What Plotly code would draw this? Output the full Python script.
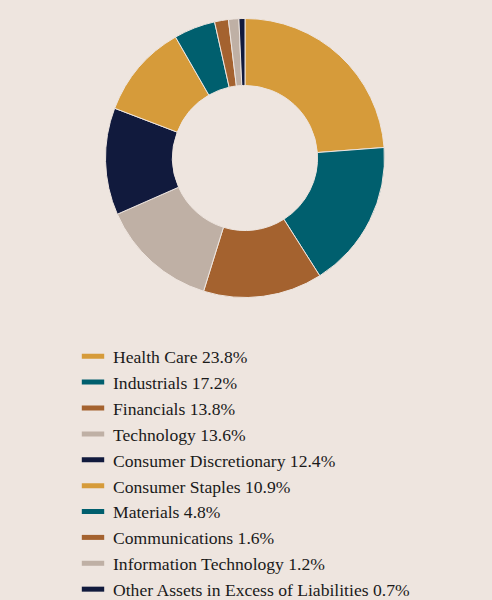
import plotly.graph_objects as go

sectors = ["Health Care", "Industrials", "Financials", "Technology", "Consumer Discretionary",
           "Consumer Staples", "Materials", "Communications", "Information Technology",
           "Other Assets in Excess of Liabilities"]
weights = [23.8, 17.2, 13.8, 13.6, 12.4, 10.9, 4.8, 1.6, 1.2, 0.7]
colors = ["#D69B3A", "#005F6E", "#A4622F", "#BFB0A5", "#111A3D",
          "#D69B3A", "#005F6E", "#A4622F", "#BFB0A5", "#111A3D"]
bg = "#EEE5DF"

labels = [f"{s} {w}%" for s, w in zip(sectors, weights)]

fig = go.Figure()
fig.add_trace(go.Pie(
    labels=labels, values=weights, sort=False, direction="clockwise", rotation=0,
    hole=0.52, textinfo="none", hoverinfo="label",
    marker=dict(colors=colors, line=dict(color=bg, width=1)),
    showlegend=False,
    domain=dict(x=[(245 - 139.5) / 492, (245 + 139.5) / 492],
                y=[1 - 297.5 / 600, 1 - 18.5 / 600]),
))
for lab, c in zip(labels, colors):
    fig.add_trace(go.Scatter(
        x=[None], y=[None], mode="markers", name=lab,
        marker=dict(symbol="line-ew-open", size=16, line=dict(color=c, width=6), color=c),
    ))

fig.update_layout(
    width=492, height=600,
    margin=dict(l=0, r=0, t=0, b=0, autoexpand=False),
    paper_bgcolor=bg, plot_bgcolor=bg,
    font=dict(family="Liberation Serif", size=17.6, color="#1a1a1a"),
    xaxis=dict(visible=False), yaxis=dict(visible=False),
    legend=dict(x=73 / 492, y=1 - 338.3 / 600, xanchor="left", yanchor="top",
                font=dict(family="Liberation Serif", size=17.6, color="#1a1a1a"),
                bgcolor="rgba(0,0,0,0)", itemsizing="trace", tracegroupgap=0),
)
fig.write_html("out.html")
